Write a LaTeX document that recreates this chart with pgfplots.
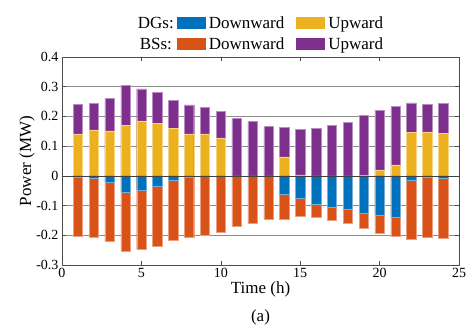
\documentclass[border=0pt]{standalone}
\usepackage{pgfplots}
\pgfplotsset{compat=1.18}
\usepackage{pgfplotstable}
\usepackage{fontspec}
\setmainfont{Liberation Serif}
\definecolor{dgblue}{RGB}{0,114,189}
\definecolor{bsorange}{RGB}{217,83,25}
\definecolor{dgyellow}{RGB}{237,177,32}
\definecolor{bspurple}{RGB}{126,47,142}
\pgfplotstableread{
h dgdown bsdown dgup bsup
1 -0.004 -0.200 0.141 0.100
2 -0.008 -0.199 0.155 0.089
3 -0.020 -0.200 0.151 0.110
4 -0.054 -0.199 0.171 0.133
5 -0.047 -0.200 0.185 0.108
6 -0.036 -0.201 0.177 0.103
7 -0.016 -0.200 0.159 0.094
8 -0.006 -0.199 0.141 0.098
9 0 -0.199 0.141 0.089
10 0 -0.190 0.128 0.088
11 0 -0.168 0 0.194
12 0 -0.160 0 0.183
13 0 -0.147 0 0.166
14 -0.062 -0.083 0.064 0.100
15 -0.075 -0.062 0.003 0.153
16 -0.097 -0.043 0 0.159
17 -0.104 -0.046 0 0.170
18 -0.112 -0.047 0 0.181
19 -0.126 -0.051 0.002 0.201
20 -0.131 -0.061 0.020 0.201
21 -0.140 -0.063 0.037 0.196
22 -0.015 -0.198 0.147 0.099
23 -0.006 -0.200 0.148 0.093
24 -0.008 -0.201 0.142 0.102
}\datatable
\begin{document}
\begin{tikzpicture}
\begin{axis}[
  at={(0pt,0pt)}, anchor=south west, scale only axis,
  width=397pt, height=208pt,
  xmin=0, xmax=25, ymin=-0.3, ymax=0.4,
  xtick={0,5,10,15,20,25},
  xticklabels={0,5,10,15,20,25},
  ytick={-0.3,-0.2,-0.1,0,0.1,0.2,0.3,0.4},
  yticklabels={-0.3,-0.2,-0.1,0,0.1,0.2,0.3,0.4},
  /pgf/number format/assume math mode=true,
  tick align=inside,
  ymajorgrids,
  grid style={black!45, line width=0.5pt},
  axis line style={black!70, line width=0.6pt},
  major tick style={black!70, line width=0.5pt},
  ticklabel style={font=\fontsize{14}{16}\selectfont\rmfamily},
  label style={font=\fontsize{17}{20}\selectfont},
  xlabel={Time (h)}, ylabel={Power (MW)},
  xlabel style={at={(axis description cs:0.5,-0.0817)}, anchor=north, inner sep=0pt},
  ylabel style={at={(axis description cs:-0.068,0.5)}, anchor=south, inner sep=0pt},
  legend columns=3,
  legend image code/.code={\path[draw=none,fill=none] (0pt,-10.5pt) rectangle (0.1pt,10.5pt);\fill[#1,draw=none] (0pt,-6pt) rectangle (29pt,6pt);},
  legend style={at={(0.5,1)}, anchor=south, yshift=0pt, draw=none, fill=none,
    font=\fontsize{17}{20}\selectfont, column sep=0pt,
    nodes={inner xsep=3pt, inner ysep=1pt},
    /tikz/column 4/.style={column sep=9pt}},
]
\addplot[ybar, bar width=0.59, bar shift=0pt, fill=bspurple, draw=bspurple!55!white, line width=0.4pt, forget plot]
  table[x=h, y expr=\thisrow{dgup}+\thisrow{bsup}] {\datatable};
\addplot[ybar, bar width=0.59, bar shift=0pt, fill=dgyellow, draw=dgyellow!55!white, line width=0.4pt, forget plot]
  table[x=h, y=dgup] {\datatable};
\addplot[ybar, bar width=0.59, bar shift=0pt, fill=bsorange, draw=bsorange!55!white, line width=0.4pt, forget plot]
  table[x=h, y expr=\thisrow{dgdown}+\thisrow{bsdown}] {\datatable};
\addplot[ybar, bar width=0.59, bar shift=0pt, fill=dgblue, draw=dgblue!55!white, line width=0.4pt, forget plot]
  table[x=h, y=dgdown] {\datatable};
\addplot[black!75, line width=0.6pt, forget plot] coordinates {(0,0) (25,0)};
\addlegendimage{empty legend}
\addlegendentry{DGs:}
\addlegendimage{fill=dgblue}
\addlegendentry{Downward}
\addlegendimage{fill=dgyellow}
\addlegendentry{Upward}
\addlegendimage{empty legend}
\addlegendentry{BSs:}
\addlegendimage{fill=bsorange}
\addlegendentry{Downward}
\addlegendimage{fill=bspurple}
\addlegendentry{Upward}
\end{axis}
\node[anchor=north, inner sep=0pt, font=\fontsize{17}{20}\selectfont] at (198.5pt,-45pt) {(a)};
\pgfresetboundingbox
\path (-62pt,-64pt) rectangle (409pt,265pt);
\end{tikzpicture}
\end{document}
